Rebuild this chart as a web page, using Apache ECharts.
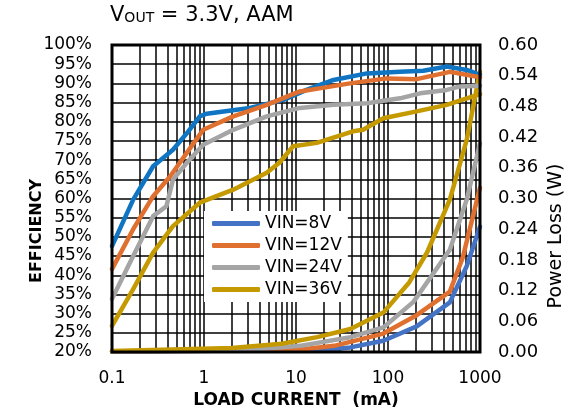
<!DOCTYPE html>
<html lang="en">
<head>
    <meta charset="UTF-8" />
    <title>Efficiency and power loss</title>
    <script src="https://cdn.jsdelivr.net/npm/echarts@6/dist/echarts.min.js"></script>
    <style>
        html, body { margin: 0; padding: 0; background: #fff; }
        #chart { width: 574px; height: 414px; }
    </style>
</head>
<body>
    <div id="chart"></div>
    <script type="text/javascript">
        // legend names
        const names = ["VIN=8V", "VIN=12V", "VIN=24V", "VIN=36V"];
        const colors = ["#0F75C3", "#E0702F", "#A5A5A5", "#C49A00"];
        const lossColors = ["#4472C4", "#E0702F", "#A5A5A5", "#C49A00"];

        // efficiency (%) vs load current (mA)
        const effI8 = [0.1, 0.17, 0.28, 0.46, 0.65, 0.9, 1.07, 3.16, 7.3, 13, 25.6, 59, 135, 242, 435, 718, 1000];
        const eff8 = [47.6, 59.7, 68.4, 72.7, 77, 81.4, 82.1, 83.6, 85.7, 88.3, 90.9, 92.6, 93, 93.3, 94.4, 93.5, 92.2];
        const effI12 = [0.1, 0.17, 0.28, 0.43, 0.65, 0.98, 2.08, 4.8, 11, 18, 38.6, 97, 205, 470, 1000];
        const eff12 = [41.6, 52, 60.6, 65.8, 71.9, 77.9, 81.4, 84.4, 87.9, 88.7, 90, 91.3, 91.1, 93, 91.6];
        const effI24 = [0.1, 0.17, 0.28, 0.39, 0.46, 0.65, 0.98, 2.08, 4.8, 11, 25.6, 59, 135, 223, 435, 610, 1000];
        const eff24 = [33.8, 45, 55.4, 58, 64.9, 69.3, 74, 77.9, 81.4, 83.6, 84.4, 84.8, 86.1, 87.4, 88.3, 89.2, 89.4];
        const effI36 = [0.1, 0.17, 0.28, 0.46, 0.9, 2.08, 4.8, 6.6, 9.3, 16.8, 41.7, 53.6, 89, 205, 435, 718, 1000];
        const eff36 = [26.8, 36.4, 45.9, 52.8, 58.9, 62.3, 66.7, 69.3, 73.6, 74.5, 77.5, 77.9, 80.9, 82.7, 84.4, 86.1, 87.2];

        // power loss (W) vs load current (mA)
        const lossI8 = [0.1, 20, 39, 89, 205, 470, 718, 1000];
        const loss8 = [0.001, 0.004, 0.009, 0.022, 0.05, 0.097, 0.168, 0.245];
        const lossI12 = [0.1, 10, 26, 89, 205, 470, 650, 1000];
        const loss12 = [0.001, 0.004, 0.012, 0.036, 0.072, 0.118, 0.185, 0.321];
        const lossI24 = [0.1, 3, 11, 39, 89, 189, 470, 718, 1000];
        const loss24 = [0.001, 0.004, 0.012, 0.029, 0.048, 0.098, 0.2, 0.298, 0.408];
        const lossI36 = [0.1, 2, 7, 17, 39, 89, 170, 265, 470, 718, 1000];
        const loss36 = [0.002, 0.008, 0.016, 0.029, 0.045, 0.077, 0.136, 0.194, 0.298, 0.415, 0.548];

        // x tick labels and log grid positions (mA)
        const xLabels = [0.1, 1, 10, 100, 1000];
        const xGrid = [0.1, 0.2, 0.3, 0.4, 0.5, 0.6, 0.7, 0.8, 0.9,
            1, 2, 3, 4, 5, 6, 7, 8, 9,
            10, 20, 30, 40, 50, 60, 70, 80, 90,
            100, 200, 300, 400, 500, 600, 700, 800, 900, 1000];

        const font = "DejaVu Sans";

        function pairs(xs, ys) {
            return xs.map((x, i) => [x, ys[i]]);
        }

        const effData = [pairs(effI8, eff8), pairs(effI12, eff12), pairs(effI24, eff24), pairs(effI36, eff36)];
        const lossData = [pairs(lossI8, loss8), pairs(lossI12, loss12), pairs(lossI24, loss24), pairs(lossI36, loss36)];

        let series = [];
        for (let i = 0; i < 4; i++) {
            series.push({
                name: names[i], type: "line", yAxisIndex: 1, data: lossData[i],
                showSymbol: false, symbol: "none", z: 6,
                lineStyle: { color: lossColors[i], width: 4.5, cap: "round", join: "round" },
                itemStyle: { color: lossColors[i] }
            });
        }
        for (let i = 0; i < 4; i++) {
            series.push({
                name: names[i], type: "line", yAxisIndex: 0, data: effData[i],
                showSymbol: false, symbol: "none", z: 7,
                lineStyle: { color: colors[i], width: 4.5, cap: "round", join: "round" },
                itemStyle: { color: colors[i] }
            });
        }

        let chart = echarts.init(document.getElementById("chart"), null, { renderer: "canvas" });
        chart.setOption({
            animation: false,
            backgroundColor: "#fff",
            title: {
                left: 105, top: 0,
                text: "{a|V}{b|OUT}{a| = 3.3V, AAM}",
                textStyle: {
                    fontWeight: "normal",
                    rich: {
                        a: { fontFamily: font, fontSize: 21, fontWeight: "normal", color: "#000", verticalAlign: "bottom" },
                        b: { fontFamily: font, fontSize: 14, fontWeight: "normal", color: "#000", verticalAlign: "bottom", padding: [0, 0, 1, 0] }
                    }
                }
            },
            grid: {
                left: 112, right: 94, top: 45, bottom: 61,
                show: true, borderColor: "#000", borderWidth: 3, backgroundColor: "transparent", z: 10
            },
            legend: {
                data: names, orient: "vertical", left: 204, top: 211, z: 12,
                backgroundColor: "#fff", padding: [4, 6, 4, 8], itemGap: 5,
                icon: "roundRect", itemWidth: 48, itemHeight: 5,
                textStyle: { fontFamily: font, fontSize: 17, color: "#000" }
            },
            xAxis: {
                type: "log", logBase: 10, min: 0.1, max: 1000,
                name: "LOAD CURRENT  (mA)", nameLocation: "middle", nameGap: 40,
                nameTextStyle: { fontFamily: font, fontSize: 17, fontWeight: "bold", color: "#000" },
                axisLine: { show: false },
                // ticks hidden, but their custom values also place the vertical grid lines
                axisTick: { show: false, customValues: xGrid },
                axisLabel: {
                    fontFamily: font, fontSize: 17, color: "#000", margin: 18,
                    customValues: xLabels,
                    formatter: v => String(Math.round(v * 10) / 10)
                },
                splitLine: { show: true, lineStyle: { color: "#000", width: 1.5 } }
            },
            yAxis: [{
                type: "value", min: 20, max: 100, interval: 5,
                axisLine: { show: false }, axisTick: { show: false },
                axisLabel: { fontFamily: font, fontSize: 17, color: "#000", margin: 20, formatter: "{value}%" },
                splitLine: { show: true, lineStyle: { color: "#000", width: 1.5 } }
            }, {
                type: "value", min: 0, max: 0.6, interval: 0.06, position: "right",
                axisLine: { show: false }, axisTick: { show: false },
                axisLabel: { fontFamily: font, fontSize: 18, color: "#000", margin: 18, formatter: v => v.toFixed(2) },
                splitLine: { show: false }
            }],
            graphic: [{
                type: "text", x: 37, y: 231, rotation: Math.PI / 2,
                style: { text: "EFFICIENCY", fontFamily: font, fontSize: 16, fontWeight: "bold", fill: "#000", align: "center", verticalAlign: "middle" }
            }, {
                type: "text", x: 556, y: 236, rotation: Math.PI / 2,
                style: { text: "Power Loss (W)", fontFamily: font, fontSize: 19, fill: "#000", align: "center", verticalAlign: "middle" }
            }],
            series: series
        });
    </script>
</body>
</html>
